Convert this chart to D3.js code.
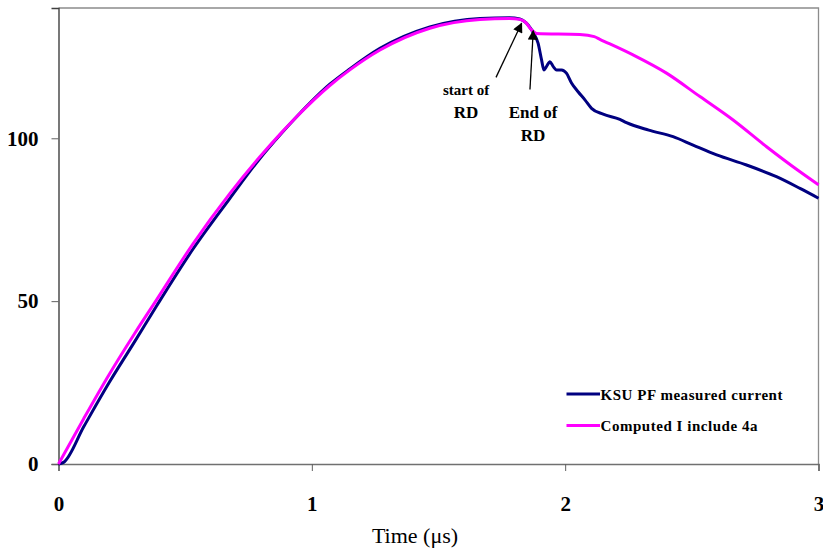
<!DOCTYPE html>
<html>
<head>
<meta charset="utf-8">
<script src="https://cdn.jsdelivr.net/npm/d3@7"></script>
<style>
    body { margin: 0; background: #fff; }
    text { font-family: "Liberation Serif", "Times New Roman", serif; }
</style>
</head>
<body>
<div id="chart"></div>
<script>

// time in microseconds
var timeMeasured = [0, 0.02, 0.1, 0.2, 0.3, 0.387, 0.531, 0.676, 0.795, 0.874, 0.94, 1.071, 1.15, 1.269, 1.466,
    1.664, 1.78, 1.821, 1.845, 1.865, 1.874, 1.893, 1.907, 1.916, 1.926, 1.94, 1.953, 1.966, 1.986, 2.005,
    2.025, 2.051, 2.078, 2.104, 2.15, 2.216, 2.242, 2.33, 2.426, 2.505, 2.598, 2.716, 2.834, 2.927, 3.0];
var currentMeasured = [0, 0.5, 11.5, 25, 37.5, 48.5, 66, 81.5, 93.8, 101, 106.6, 116.6, 121.3, 127.6, 134.2,
    136.8, 137, 136.6, 135.5, 133.6, 132.4, 129.2, 124, 121, 122, 123.5, 122, 121, 121, 120,
    117, 114.3, 111.8, 109.2, 107.4, 105.8, 104.8, 102.5, 100.5, 97.9, 94.9, 91.8, 88.2, 84.6, 81.6];

var timeComputed = [0, 0.1, 0.2, 0.3, 0.387, 0.531, 0.676, 0.795, 0.874, 0.94, 1.071, 1.15, 1.269, 1.466,
    1.664, 1.78, 1.821, 1.845, 1.865, 1.887, 2.058, 2.115, 2.137, 2.268, 2.4, 2.532, 2.663, 2.795, 2.927, 3.0];
var currentComputed = [0, 14, 27.5, 40, 50.4, 67.6, 83, 94.3, 101.2, 106.6, 116.2, 121, 127.1, 133.8,
    136.5, 136.8, 136.5, 135.5, 133.5, 132.2, 131.9, 131.2, 130.4, 125.6, 120, 112.8, 105.6, 97.4, 89.7, 85.7];

var xTicks = [0, 1, 2, 3];
var yTicks = [0, 50, 100];
var seriesNames = ["KSU PF measured current", "Computed I include 4a"];
var seriesColors = ["#000080", "#ff00ff"];

// annotation arrows, in data units: text, tail, tip
var notes = [
    {lines: ["start of", "RD"], tx: 1.609, tail: [1.727, 118.7], tip: [1.828, 135.3]},
    {lines: ["End of", "RD"], tx: 1.873, tail: [1.861, 115], tip: [1.874, 133]}
];

var width = 823;
var height = 549;
var margin = {top: 8, bottom: 85, left: 58.5, right: 4.5};

var svg = d3.select("#chart").append("svg")
    .attr("width", width)
    .attr("height", height);

var x = d3.scaleLinear().domain([0, 3]).range([margin.left, width - margin.right]);
var y = d3.scaleLinear().domain([0, 140]).range([height - margin.bottom, margin.top]);

// frame: top and right in light grey
svg.append("path")
    .attr("d", "M" + x(0) + "," + y(140) + "H" + x(3) + "V" + y(0))
    .style("fill", "none")
    .style("stroke", "#8c8c8c")
    .style("stroke-width", 1.3);

var xAxis = svg.append("g")
    .attr("transform", "translate(0," + y(0) + ")")
    .call(d3.axisBottom(x).tickValues(xTicks).tickFormat(d3.format("d")).tickSize(7).tickPadding(25));

var yAxis = svg.append("g")
    .attr("transform", "translate(" + x(0) + ",0)")
    .call(d3.axisLeft(y).tickValues(yTicks).tickSize(7).tickPadding(13));

xAxis.select(".domain").style("stroke", "#707070").style("stroke-width", 1.6);
yAxis.select(".domain").style("stroke", "#404040").style("stroke-width", 1.4);
xAxis.selectAll(".tick line").style("stroke", "#606060").style("stroke-width", 1);
yAxis.selectAll(".tick line").style("stroke", "#606060").style("stroke-width", 1);

svg.selectAll(".tick text")
    .style("font-family", "'Liberation Serif', serif")
    .style("font-size", "21px")
    .style("font-weight", "bold")
    .style("fill", "#000");

var line = d3.line()
    .curve(d3.curveMonotoneX)
    .x(function (d) { return x(d[0]); })
    .y(function (d) { return y(d[1]); });

var measured = d3.zip(timeMeasured, currentMeasured);
var computed = d3.zip(timeComputed, currentComputed);

svg.append("path")
    .datum(measured)
    .style("fill", "none")
    .style("stroke", seriesColors[0])
    .style("stroke-width", 3)
    .style("stroke-linejoin", "round")
    .attr("d", line);

svg.append("path")
    .datum(computed)
    .style("fill", "none")
    .style("stroke", seriesColors[1])
    .style("stroke-width", 3)
    .style("stroke-linejoin", "round")
    .attr("d", line);

// arrows
svg.append("defs").append("marker")
    .attr("id", "head")
    .attr("viewBox", "0 0 10 10")
    .attr("refX", 9)
    .attr("refY", 5)
    .attr("markerWidth", 11)
    .attr("markerHeight", 10)
    .attr("markerUnits", "userSpaceOnUse")
    .attr("orient", "auto")
    .append("path")
    .attr("d", "M0,0L10,5L0,10z")
    .style("fill", "#000");

notes.forEach(function (n, i) {
    svg.append("line")
        .attr("x1", x(n.tail[0])).attr("y1", y(n.tail[1]))
        .attr("x2", x(n.tip[0])).attr("y2", y(n.tip[1]))
        .style("stroke", "#000")
        .style("stroke-width", 1.3)
        .attr("marker-end", "url(#head)");

    n.lines.forEach(function (s, j) {
        svg.append("text")
            .attr("x", x(n.tx))
            .attr("y", (i === 0 ? 95 : 118) + j * 23)
            .attr("text-anchor", "middle")
            .style("font-size", i === 0 && j === 0 ? "15px" : "17px")
            .style("font-weight", "bold")
            .text(s);
    });
});

// legend
var legend = svg.append("g");
seriesNames.forEach(function (name, i) {
    var ly = 394 + i * 31.5;
    legend.append("line")
        .attr("x1", 566.5).attr("x2", 600)
        .attr("y1", ly).attr("y2", ly)
        .style("stroke", seriesColors[i])
        .style("stroke-width", 3);
    legend.append("text")
        .attr("x", 600.5)
        .attr("y", ly + 5.5)
        .attr("textLength", i === 0 ? 182 : 157)
        .attr("lengthAdjust", "spacing")
        .style("font-size", "15px")
        .style("font-weight", "bold")
        .text(name);
});

svg.append("text")
    .attr("x", 415)
    .attr("y", 543)
    .attr("text-anchor", "middle")
    .style("font-size", "22px")
    .text("Time (\u03bcs)");

</script>
</body>
</html>
